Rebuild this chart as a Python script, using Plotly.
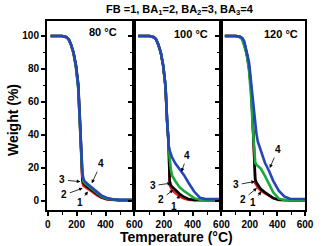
import plotly.graph_objects as go

# ---------------- data ----------------
T = [20, 100, 130, 145, 160, 178, 195, 211, 222, 233, 240, 248, 258, 280, 310, 340, 370, 410, 450, 490, 600]

# 80 °C
w80_1 = [100, 100, 99.3, 98, 95, 90, 82, 69, 48, 26, 11, 9, 8.3, 7, 5.2, 3.3, 1.8, 0.7, 0.3, 0.2, 0.2]
w80_2 = [100, 100, 99.3, 98, 95, 90, 82.5, 71, 51, 27, 13, 10.5, 9.5, 8, 6, 4, 2.2, 1, 0.5, 0.3, 0.3]
w80_3 = [100, 100, 99.3, 98, 95, 89.5, 81, 68, 47, 28, 15, 11.5, 10.5, 9, 6.7, 4.5, 2.6, 1.2, 0.6, 0.4, 0.4]
w80_4 = [100, 100, 99.3, 98, 95, 90, 82, 69.5, 49, 29, 17, 12.8, 11.5, 9.8, 7.6, 5.2, 3.2, 1.6, 0.8, 0.6, 0.5]

# 100 °C
w100_1 = [100, 100, 99.3, 98, 95, 90, 82, 69, 48, 35, 9.5, 7.5, 6.3, 4.7, 2.6, 1.2, 0.5, 0.2, 0.2, 0.2, 0.2]
w100_2 = [100, 100, 99.3, 98, 95, 90, 82, 69.5, 48.5, 34, 12, 9.5, 8.3, 6.3, 4, 2.2, 1, 0.4, 0.3, 0.3, 0.3]
w100_3 = [100, 100, 99.3, 98, 95, 90, 82, 69.5, 49, 33, 26, 19, 15, 11.8, 8, 5.8, 4, 1.5, 0.5, 0.4, 0.4]
w100_4 = [100, 100, 99.3, 98, 95, 90, 82, 69.5, 49, 33, 30.5, 28, 26, 22.5, 19, 15.5, 11, 5.5, 1.8, 0.9, 0.9]

# 120 °C
w120_1 = [100, 100, 99.4, 98.5, 95.5, 89.5, 81, 67, 47, 28, 10.5, 9.6, 8, 6, 4.5, 2.8, 1.5, 0.4, 0.2, 0.2, 0.2]
w120_2 = [100, 100, 99.4, 98.5, 95.5, 89.5, 81, 67.5, 48, 30, 13, 11, 9.5, 7, 5, 3, 1.5, 0.5, 0.3, 0.3, 0.3]
w120_3 = [100, 100, 99.3, 98, 94, 89, 79, 62, 44, 28, 23, 21.8, 21, 19.5, 15, 9.5, 5, 1.2, 0.4, 0.3, 0.3]
w120_4 = [100, 100, 99.5, 98.8, 97, 91, 84, 71, 62, 52, 47, 41, 36, 31, 23, 18, 12, 6, 2.5, 1.1, 1.0]

panel_labels = ["80 °C", "100 °C", "120 °C"]
series_names = ["1", "2", "3", "4"]
colors = ["#f01a1a", "#000000", "#1aa83c", "#2545b8"]

x_major_first = [0, 200, 400, 600]
x_major_other = [200, 400, 600]
x_minor = [100, 300, 500]
y_major = [0, 20, 40, 60, 80, 100]
y_minor = [10, 30, 50, 70, 90]

panels = [
    [w80_1, w80_2, w80_3, w80_4],
    [w100_1, w100_2, w100_3, w100_4],
    [w120_1, w120_2, w120_3, w120_4],
]

# ---------------- figure ----------------
FONT = "Liberation Sans, Arial, sans-serif"
fig = go.Figure()

domains = [[0, 0.339], [0.339, 0.676], [0.676, 1]]

for p, curves in enumerate(panels):
    xa = "x" if p == 0 else f"x{p+1}"
    ya = "y" if p == 0 else f"y{p+1}"
    for s, w in enumerate(curves):
        fig.add_trace(go.Scatter(
            x=T, y=w, mode="lines", xaxis=xa, yaxis=ya,
            line=dict(color=colors[s], width=2.6),
            name=series_names[s], showlegend=False, hoverinfo="skip"))

axis_common = dict(showline=True, linecolor="black", linewidth=2, mirror=True,
                   ticks="outside", ticklen=4, tickwidth=1.5, tickcolor="black",
                   showgrid=False, zeroline=False,
                   tickfont=dict(family=FONT, size=10, color="black", weight="bold"))

for p in range(3):
    xkey = "xaxis" if p == 0 else f"xaxis{p+1}"
    ykey = "yaxis" if p == 0 else f"yaxis{p+1}"
    yanchor = "y" if p == 0 else f"y{p+1}"
    xanchor = "x" if p == 0 else f"x{p+1}"
    fig.layout[xkey] = dict(
        axis_common, domain=domains[p], anchor=yanchor, range=[-5, 600],
        tickmode="array", tickvals=x_major_first if p == 0 else x_major_other,
        minor=dict(tickmode="array", tickvals=x_minor, ticks="outside",
                   ticklen=2.5, tickwidth=1.2, tickcolor="black"))
    fig.layout[ykey] = dict(
        axis_common, domain=[0, 1], anchor=xanchor, range=[-5.7, 109.1],
        tickmode="array", tickvals=y_major,
        showticklabels=(p == 0),
        minor=dict(tickmode="array", tickvals=y_minor, ticks="outside",
                   ticklen=2.5, tickwidth=1.2, tickcolor="black"))

annotations = []
lbl_font = dict(family=FONT, size=11, color="black", weight="bold")

# panel temperature labels
panel_label_pos = [(380, 102.5), (385, 101.5), (423, 101)]
for p in range(3):
    xr = "x" if p == 0 else f"x{p+1}"
    yr = "y" if p == 0 else f"y{p+1}"
    annotations.append(dict(x=panel_label_pos[p][0], y=panel_label_pos[p][1],
                            xref=xr, yref=yr, text=panel_labels[p],
                            xanchor="center", yanchor="middle",
                            showarrow=False, font=lbl_font))

# curve number pointers: (label, text_x, text_y, head_x, head_y)
pointers = [
    [("3", 102, 12.6, 226, 11.5),
     ("2", 115, 3.5, 242, 7.6),
     ("1", 220, -1.2, 278, 5.5),
     ("4", 367, 22.4, 305, 10.5)],
    [("4", 362, 27.3, 322, 17.5),
     ("3", 124, 9.1, 250, 10.6),
     ("2", 182, 0.9, 264, 6.5),
     ("1", 272, -3.7, 308, 3.5)],
    [("4", 402, 30.9, 345, 19.8),
     ("3", 103, 9.6, 238, 11.6),
     ("2", 154, 0.9, 252, 7.6),
     ("1", 223, -1.2, 283, 5.5)],
]
num_font = dict(family=FONT, size=10, color="black", weight="bold")
for p in range(3):
    xr = "x" if p == 0 else f"x{p+1}"
    yr = "y" if p == 0 else f"y{p+1}"
    for (lab, tx, ty, hx, hy) in pointers[p]:
        annotations.append(dict(x=hx, y=hy, ax=tx, ay=ty, xref=xr, yref=yr,
                                axref=xr, ayref=yr, text=lab, showarrow=True,
                                font=num_font, borderpad=1,
                                arrowhead=2, arrowsize=0.9, arrowwidth=0.8,
                                arrowcolor="black", standoff=0, startstandoff=1))

# title and axis titles (paper coords)
def px_to_paper(px, py):
    return (px - 47) / 266.0, (210 - py) / 189.0

tx, ty = px_to_paper(184, 10)
annotations.append(dict(x=tx, y=ty, xref="paper", yref="paper",
                        xanchor="center", yanchor="middle",
                        text="FB =1, BA<sub>1</sub>=2, BA<sub>2</sub>=3, BA<sub>3</sub>=4",
                        showarrow=False, font=dict(family=FONT, size=11, color="black", weight="bold")))
tx, ty = px_to_paper(181, 237)
annotations.append(dict(x=tx, y=ty, xref="paper", yref="paper",
                        xanchor="center", yanchor="middle",
                        text="Temperature (°C)", showarrow=False,
                        font=dict(family=FONT, size=14, color="black", weight="bold")))
tx, ty = px_to_paper(12, 120)
annotations.append(dict(x=tx, y=ty, xref="paper", yref="paper",
                        xanchor="center", yanchor="middle",
                        text="Weight (%)", showarrow=False, textangle=-90,
                        font=dict(family=FONT, size=14, color="black", weight="bold")))

fig.update_layout(
    width=326, height=246,
    margin=dict(l=47, r=13, t=21, b=36),
    paper_bgcolor="white", plot_bgcolor="white",
    showlegend=False,
    annotations=annotations,
)

fig.write_html("out.html", config={"displayModeBar": False},
               post_script="document.body.style.margin='0';document.body.style.padding='0';")
